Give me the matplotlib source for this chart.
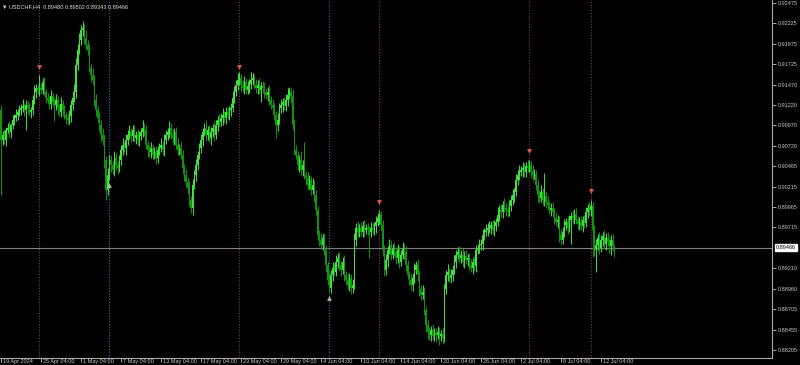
import numpy as np
import matplotlib
matplotlib.use("Agg")
import matplotlib.pyplot as plt
import matplotlib.transforms as mtransforms

plt.rcParams["font.family"] = ["Liberation Sans", "DejaVu Sans"]

# H4 closes, USDCHF, from 19 Apr 2024 04:00
closes = [
    0.9079, 0.9085, 0.9079, 0.9091, 0.9094, 0.9089,
    0.9097, 0.9104, 0.9106, 0.9110, 0.9113, 0.9116,
    0.9118, 0.9121, 0.9116, 0.9122, 0.9118, 0.9113, 0.9116,
    0.9128, 0.9138, 0.9143, 0.9141,
    0.9143, 0.9141, 0.9150, 0.9138,
    0.9131, 0.9128, 0.9123, 0.9133, 0.9126,
    0.9122, 0.9128, 0.9118, 0.9113, 0.9123, 0.9116,
    0.9110, 0.9106, 0.9104, 0.9109,
    0.9122, 0.9131, 0.9138,
    0.9171, 0.9190, 0.9202,
    0.9214, 0.9217,
    0.9205, 0.9196, 0.9190,
    0.9168, 0.9159, 0.9153,
    0.9128, 0.9116, 0.9106, 0.9097,
    0.9085, 0.9079, 0.9054,
    0.9018, 0.9036,
    0.9054, 0.9048, 0.9042,
    0.9057, 0.9048, 0.9045, 0.9054,
    0.9067, 0.9073, 0.9069, 0.9079,
    0.9085, 0.9089, 0.9084, 0.9091,
    0.9081, 0.9085, 0.9079, 0.9084, 0.9089,
    0.9094, 0.9091,
    0.9073, 0.9067, 0.9064,
    0.9069, 0.9061, 0.9064, 0.9057, 0.9067,
    0.9069, 0.9073, 0.9067,
    0.9079, 0.9085, 0.9089, 0.9094,
    0.9085, 0.9081, 0.9089,
    0.9073, 0.9067, 0.9069, 0.9061,
    0.9045, 0.9036, 0.9027, 0.9020,
    0.9005, 0.8995,
    0.9024, 0.9036, 0.9048,
    0.9061, 0.9069, 0.9079, 0.9089, 0.9094,
    0.9085, 0.9091, 0.9081, 0.9089, 0.9094, 0.9085,
    0.9097, 0.9104, 0.9101, 0.9106, 0.9110,
    0.9106, 0.9113, 0.9110, 0.9116, 0.9118,
    0.9131, 0.9138,
    0.9147, 0.9153, 0.9155,
    0.9147, 0.9143, 0.9150, 0.9141, 0.9145, 0.9148,
    0.9153, 0.9155, 0.9147,
    0.9143, 0.9147, 0.9141, 0.9145, 0.9143, 0.9138,
    0.9134, 0.9138,
    0.9128, 0.9122, 0.9118,
    0.9110, 0.9097, 0.9104,
    0.9118, 0.9122, 0.9126, 0.9121, 0.9128,
    0.9134, 0.9138, 0.9133,
    0.9097, 0.9067,
    0.9061, 0.9048, 0.9054,
    0.9042, 0.9048, 0.9036,
    0.9032, 0.9024, 0.9030, 0.9018, 0.9024, 0.9011,
    0.8993, 0.8962,
    0.8956, 0.8950, 0.8958, 0.8944,
    0.8925, 0.8907, 0.8897,
    0.8913, 0.8922, 0.8917, 0.8929,
    0.8934, 0.8925, 0.8919, 0.8929,
    0.8913, 0.8907, 0.8901, 0.8909, 0.8897, 0.8901,
    0.8956, 0.8971, 0.8966,
    0.8971, 0.8966, 0.8973, 0.8968, 0.8971,
    0.8968, 0.8966, 0.8971, 0.8968, 0.8973,
    0.8978, 0.8983, 0.8987, 0.8974,
    0.8944, 0.8919, 0.8931,
    0.8944, 0.8950, 0.8938, 0.8946,
    0.8941, 0.8934, 0.8944, 0.8929, 0.8938, 0.8946, 0.8941,
    0.8925, 0.8913, 0.8907, 0.8901, 0.8909,
    0.8919, 0.8925, 0.8913,
    0.8895, 0.8888, 0.8892,
    0.8870, 0.8851,
    0.8843, 0.8839, 0.8845, 0.8838, 0.8842, 0.8839, 0.8843, 0.8838,
    0.8840, 0.8835,
    0.8895, 0.8913,
    0.8917, 0.8909, 0.8913, 0.8919,
    0.8929, 0.8938, 0.8941,
    0.8934, 0.8938, 0.8929, 0.8936, 0.8931, 0.8934,
    0.8925, 0.8922, 0.8929, 0.8924,
    0.8944, 0.8946, 0.8950, 0.8951,
    0.8962, 0.8966, 0.8968, 0.8971,
    0.8971, 0.8974, 0.8968, 0.8973, 0.8978,
    0.8987, 0.8993, 0.8990, 0.8999, 0.8995,
    0.8993, 0.8990, 0.8998,
    0.9005, 0.9011, 0.9015,
    0.9030, 0.9036, 0.9040,
    0.9042, 0.9045, 0.9040, 0.9047, 0.9045, 0.9048,
    0.9040, 0.9036, 0.9037,
    0.9024, 0.9011,
    0.9008, 0.9015, 0.9005, 0.9010, 0.9003,
    0.8999, 0.8993, 0.8995, 0.8990,
    0.8983, 0.8978, 0.8981,
    0.8962, 0.8956, 0.8966,
    0.8974, 0.8978, 0.8971, 0.8981,
    0.8985, 0.8983, 0.8988, 0.8981,
    0.8976, 0.8978, 0.8973, 0.8981, 0.8977,
    0.8990, 0.8995, 0.8993, 0.8998,
    0.8968, 0.8944,
    0.8950, 0.8958, 0.8946,
    0.8956, 0.8961, 0.8951, 0.8958,
    0.8954, 0.8949, 0.8956, 0.8948, 0.89466,
]
first_open = 0.9116

# wicks above / below the body, in pips
wick_up = [
    6, 5, 7, 4, 6, 8, 3, 6, 5, 7,  4, 6, 5, 8, 4, 6, 5, 7, 3, 6,
    8, 5, 4, 16, 6, 5, 7, 4, 6, 5,  8, 4, 6, 7, 5, 4, 9, 5, 6, 4,
    5, 7, 6, 8, 10, 9, 7, 8, 6, 8,  5, 9, 6, 7, 5, 8, 6, 7, 5, 8,
    6, 9, 7, 5, 8, 6, 7, 5, 9, 6,  5, 7, 6, 8, 4, 7, 6, 9, 5, 6,
    7, 5, 8, 6, 5, 10, 6, 7, 5, 6,  8, 5, 6, 7, 5, 6, 8, 5, 7, 6,
    5, 8, 6, 7, 5, 6, 9, 5, 7, 6,  5, 7, 6, 8, 5, 7, 6, 8, 5, 6,
    7, 5, 6, 9, 5, 7, 6, 5, 8, 6,  5, 7, 6, 8, 5, 6, 7, 5, 6, 8,
    7, 6, 8, 7, 5, 6, 8, 5, 7, 6,  9, 6, 5, 7, 6, 8, 5, 6, 7, 5,
    6, 8, 5, 7, 6, 5, 8, 6, 7, 5,  6, 7, 9, 6, 5, 7, 8, 6, 5, 7,
    12, 6, 28, 5, 7, 6, 5, 8, 6, 7,  5, 6, 8, 5, 7, 6, 5, 9, 6, 7,
    5, 8, 6, 7, 5, 6, 8, 5, 7, 6,  5, 7, 9, 6, 8, 5, 7, 6, 8, 5,
    6, 5, 7, 6, 5, 8, 6, 6, 5, 7,  6, 8, 5, 7, 6, 5, 8, 6, 7, 5,
    6, 7, 5, 8, 6, 5, 7, 6, 8, 5,  7, 6, 5, 8, 6, 5, 7, 6, 5, 8,
    6, 5, 7, 6, 5, 8, 7, 6, 9, 5,  7, 6, 8, 5, 6, 7, 5, 8, 6, 7,
    5, 6, 8, 5, 7, 6, 5, 7, 6, 8,  5, 7, 6, 8, 5, 6, 7, 5, 9, 6,
    7, 5, 8, 6, 5, 7, 6, 8, 5, 7,  6, 8, 5, 7, 6, 5, 7, 6, 5, 8,
    6, 5, 7, 6, 8, 5, 28, 6, 7, 5,  6, 8, 5, 7, 6, 5, 7, 6, 8, 5,
    7, 6, 5, 8, 6, 7, 5, 6, 8, 5,  6, 7, 5, 8, 7, 5, 6, 7, 5, 8,
    6, 5, 7, 6, 8, 5, 6, 7, 2,
]
wick_dn = [
    68, 6, 5, 7, 4, 6, 8, 5, 6, 4,  7, 5, 6, 4, 8, 25, 6, 5, 7, 6,
    5, 7, 6, 8, 5, 6, 4, 7, 5, 6,  6, 5, 20, 6, 7, 5, 6, 8, 5, 7,
    6, 5, 8, 6, 5, 7, 6, 5, 6, 7,  8, 6, 7, 5, 9, 6, 7, 8, 6, 7,
    8, 6, 9, 13, 7, 6, 8, 5, 7, 6,  8, 5, 6, 7, 5, 8, 6, 5, 7, 6,
    5, 7, 6, 8, 5, 6, 7, 5, 9, 6,  7, 6, 5, 8, 6, 7, 5, 6, 8, 5,
    6, 7, 5, 6, 8, 5, 7, 6, 5, 8,  7, 6, 8, 7, 6, 8, 5, 7, 6, 5,
    6, 8, 5, 7, 6, 5, 8, 6, 7, 5,  7, 6, 5, 8, 6, 7, 5, 6, 8, 5,
    6, 5, 7, 6, 8, 5, 7, 6, 5, 8,  6, 7, 5, 6, 8, 5, 15, 6, 7, 5,
    7, 6, 5, 8, 6, 15, 7, 5, 6, 8,  5, 6, 7, 5, 8, 6, 7, 5, 6, 8,
    6, 7, 5, 8, 6, 5, 7, 6, 8, 7,  6, 8, 5, 7, 6, 8, 7, 5, 6, 8,
    6, 5, 7, 6, 8, 5, 7, 6, 5, 8,  7, 6, 5, 8, 6, 7, 5, 6, 8, 5,
    6, 32, 7, 5, 6, 8, 5, 7, 6, 8,  7, 6, 8, 5, 7, 6, 5, 8, 6, 7,
    5, 6, 8, 7, 5, 6, 7, 8, 6, 5,  7, 8, 6, 5, 7, 8, 9, 6, 7, 5,
    6, 8, 5, 11, 6, 7, 5, 6, 8, 5,  6, 7, 5, 8, 6, 5, 7, 6, 8, 5,
    7, 6, 5, 8, 6, 7, 5, 6, 7, 8,  6, 5, 7, 6, 8, 5, 7, 6, 5, 8,
    6, 7, 5, 8, 6, 5, 7, 6, 8, 5,  7, 6, 5, 8, 6, 7, 5, 6, 8, 7,
    5, 6, 8, 7, 5, 6, 7, 8, 6, 5,  7, 6, 8, 5, 7, 9, 6, 5, 7, 6,
    8, 5, 30, 6, 7, 5, 6, 8, 5, 7,  6, 5, 7, 6, 8, 33, 8, 28, 6, 7,
    5, 8, 6, 7, 5, 9, 12, 6, 12,
]

# signal arrows: bar index, price, direction
sig_bars = [23, 65, 143, 197, 227, 317, 354]
sig_prices = [0.9169, 0.9023, 0.9169, 0.8885, 0.9003, 0.9066, 0.9016]
sig_dirs = ["down", "up", "down", "up", "down", "down", "down"]

tick_bars = list(range(0, 361, 24))
tick_labels = ["19 Apr 2024", "25 Apr 04:00", "1 May 04:00", "7 May 04:00", "13 May 04:00",
               "17 May 04:00", "23 May 04:00", "29 May 04:00", "4 Jun 04:00", "10 Jun 04:00",
               "14 Jun 04:00", "20 Jun 04:00", "26 Jun 04:00", "2 Jul 04:00", "8 Jul 04:00",
               "12 Jul 04:00"]
price_ticks = [0.92475, 0.92225, 0.91975, 0.91725, 0.91470, 0.91220, 0.90970, 0.90720,
               0.90465, 0.90215, 0.89965, 0.89715, 0.89210, 0.88960, 0.88705, 0.88455, 0.88205]
last_price = 0.89466
header = "\u25bc USDCHF,H4  0.89480 0.89502 0.89343 0.89466"

pip = 0.0001
c = np.array(closes)
o = np.concatenate([[first_open], c[:-1]])
hi = np.maximum(o, c) + np.array(wick_up) * pip
lo = np.minimum(o, c) - np.array(wick_dn) * pip
x = np.arange(len(c))
up = c >= o

fig = plt.figure(figsize=(8, 3.65), dpi=100, facecolor="black")
ax = fig.add_axes([0, 7 / 365, 772 / 800, 358 / 365])
ax.set_facecolor("black")

up_col = "#3fe33f"
dn_col = "#11960f"

ax.vlines(x[~up], lo[~up], hi[~up], color=dn_col, lw=0.7)
ax.vlines(x[up], lo[up], hi[up], color=up_col, lw=0.7)
body = np.maximum(np.abs(c - o), 0.00003)
ax.bar(x[~up], body[~up], bottom=np.minimum(o, c)[~up], width=0.75, color=dn_col, lw=0)
ax.bar(x[up], body[up], bottom=np.minimum(o, c)[up], width=0.75, color=up_col, lw=0)

for b, p, d in zip(sig_bars, sig_prices, sig_dirs):
    lc = "#8a3848" if d == "down" else "#1f7d99"
    ax.axvline(b, color=lc, lw=0.8, ls=(0, (1, 1.5)), zorder=0)
    if d == "down":
        ax.plot(b, p, marker="v", ms=3.5, color="#e35a48", mec="none")
    else:
        ax.plot(b, p, marker="^", ms=3.5, color="#a9b9b2", mec="none")

ax.axhline(last_price, color="#7f7f7f", lw=0.8, zorder=1)

ax.set_xlim(-0.6, 462.6)
ax.set_ylim(0.88107, 0.92512)

for s in ["top", "left"]:
    ax.spines[s].set_visible(False)
for s in ["right", "bottom"]:
    ax.spines[s].set_color("#a8a8a8")
    ax.spines[s].set_linewidth(0.8)

ax.yaxis.tick_right()
ax.set_yticks(price_ticks)
ax.set_yticklabels([f"{v:.5f}" for v in price_ticks])
ax.tick_params(axis="y", colors="#a8a8a8", labelcolor="#c8c8c8", labelsize=4,
               length=3, width=0.7, pad=1.5)
ax.set_xticks(tick_bars)
ax.set_xticklabels(tick_labels, ha="left")
ax.tick_params(axis="x", colors="#a8a8a8", labelcolor="#c8c8c8", labelsize=4,
               length=3, width=0.7, pad=-2.6)
shift = mtransforms.ScaledTranslation(2 / 100, 0, fig.dpi_scale_trans)
for lab in ax.get_xticklabels():
    lab.set_transform(lab.get_transform() + shift)

tr = mtransforms.blended_transform_factory(ax.transAxes, ax.transData)
ax.text(1.005, last_price, f"{last_price:.5f}", transform=tr, fontsize=4, color="black",
        va="center", ha="left",
        bbox=dict(boxstyle="square,pad=0.15", fc="white", ec="white"))

ax.text(0.003, 0.988, header, transform=ax.transAxes, fontsize=4, color="#e0e0e0",
        va="top", ha="left")

fig.savefig("out.png", dpi=100, facecolor="black")
